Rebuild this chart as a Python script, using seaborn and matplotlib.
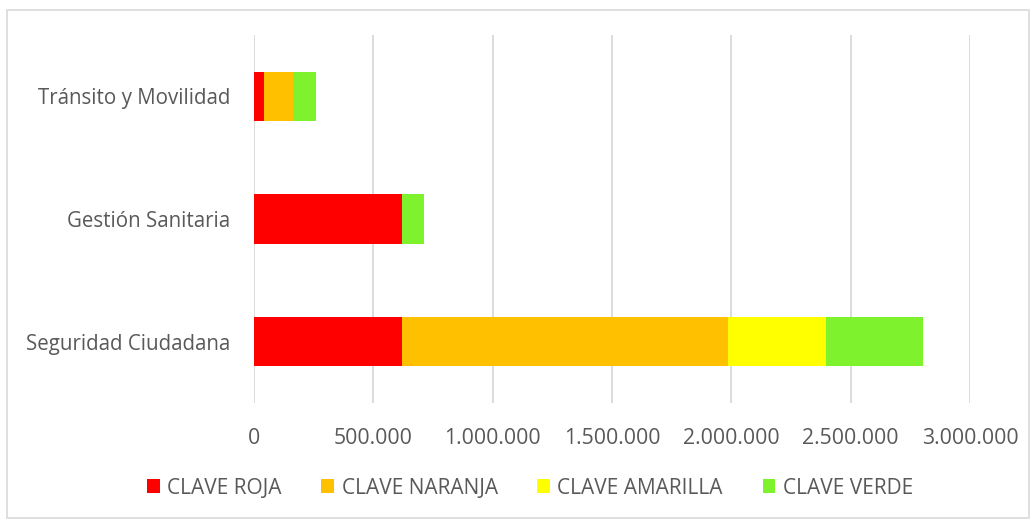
import numpy as np
import pandas as pd
import seaborn as sns
import matplotlib.pyplot as plt
from matplotlib.ticker import FuncFormatter
from matplotlib.patches import Rectangle

# --- DATA ---
categories = ['Tránsito y Movilidad', 'Gestión Sanitaria', 'Seguridad Ciudadana']
series_names = ['CLAVE ROJA', 'CLAVE NARANJA', 'CLAVE AMARILLA', 'CLAVE VERDE']
clave_roja = [43000, 619000, 619000]
clave_naranja = [120000, 0, 1366000]
clave_amarilla = [0, 0, 413000]
clave_verde = [95000, 95000, 403000]
colors = ['#FF0000', '#FFC000', '#FFFF00', '#7FF22E']
x_ticks = [0, 500000, 1000000, 1500000, 2000000, 2500000, 3000000]

sns.set_theme(style='white')
plt.rcParams['font.family'] = ['Open Sans', 'DejaVu Sans']

values = np.array([clave_roja, clave_naranja, clave_amarilla, clave_verde])
cumulative = values.cumsum(axis=0)

fig = plt.figure(figsize=(10.36, 5.22), dpi=100)
ax = fig.add_axes([254 / 1036, 1 - 403 / 522, 716 / 1036, 368 / 522])

# stacked bars: draw cumulative totals from the outermost segment inward
for i in reversed(range(len(series_names))):
    df = pd.DataFrame({'categoria': categories, 'valor': cumulative[i]})
    sns.barplot(data=df, x='valor', y='categoria', orient='h', color=colors[i],
                width=0.4, saturation=1, ax=ax, label=series_names[i],
                linewidth=0, zorder=3)

ax.set_xlim(0, 3000000)
ax.set_ylim(2.5, -0.5)
ax.set_xticks(x_ticks)
ax.xaxis.set_major_formatter(FuncFormatter(lambda v, p: f'{int(v):,}'.replace(',', '.')))
ax.grid(axis='x', color='#D9D9D9', linewidth=1.3, zorder=0)
ax.grid(axis='y', visible=False)
for s in ax.spines.values():
    s.set_visible(False)
ax.tick_params(axis='both', length=0, labelcolor='#595959')
ax.tick_params(axis='y', pad=17, labelsize=14.8)
ax.tick_params(axis='x', pad=18, labelsize=15.3)
ax.set_xlabel('')
ax.set_ylabel('')

handles, labels = ax.get_legend_handles_labels()
order = [labels.index(n) for n in series_names]
if ax.legend_:
    ax.legend_.remove()
fig.legend([handles[i] for i in order], series_names, loc='center',
           bbox_to_anchor=(530 / 1036, 1 - 488 / 522), ncol=4, frameon=False,
           fontsize=15, labelcolor='#595959', handlelength=0.62, handleheight=0.62,
           handletextpad=0.35, columnspacing=1.9)

# outer chart border
fig.patches.append(Rectangle((7 / 1036, 4 / 522), 1022 / 1036, 508 / 522,
                             transform=fig.transFigure, fill=False,
                             edgecolor='#D9D9D9', linewidth=1.2))

fig.savefig('out.png', dpi=100)
